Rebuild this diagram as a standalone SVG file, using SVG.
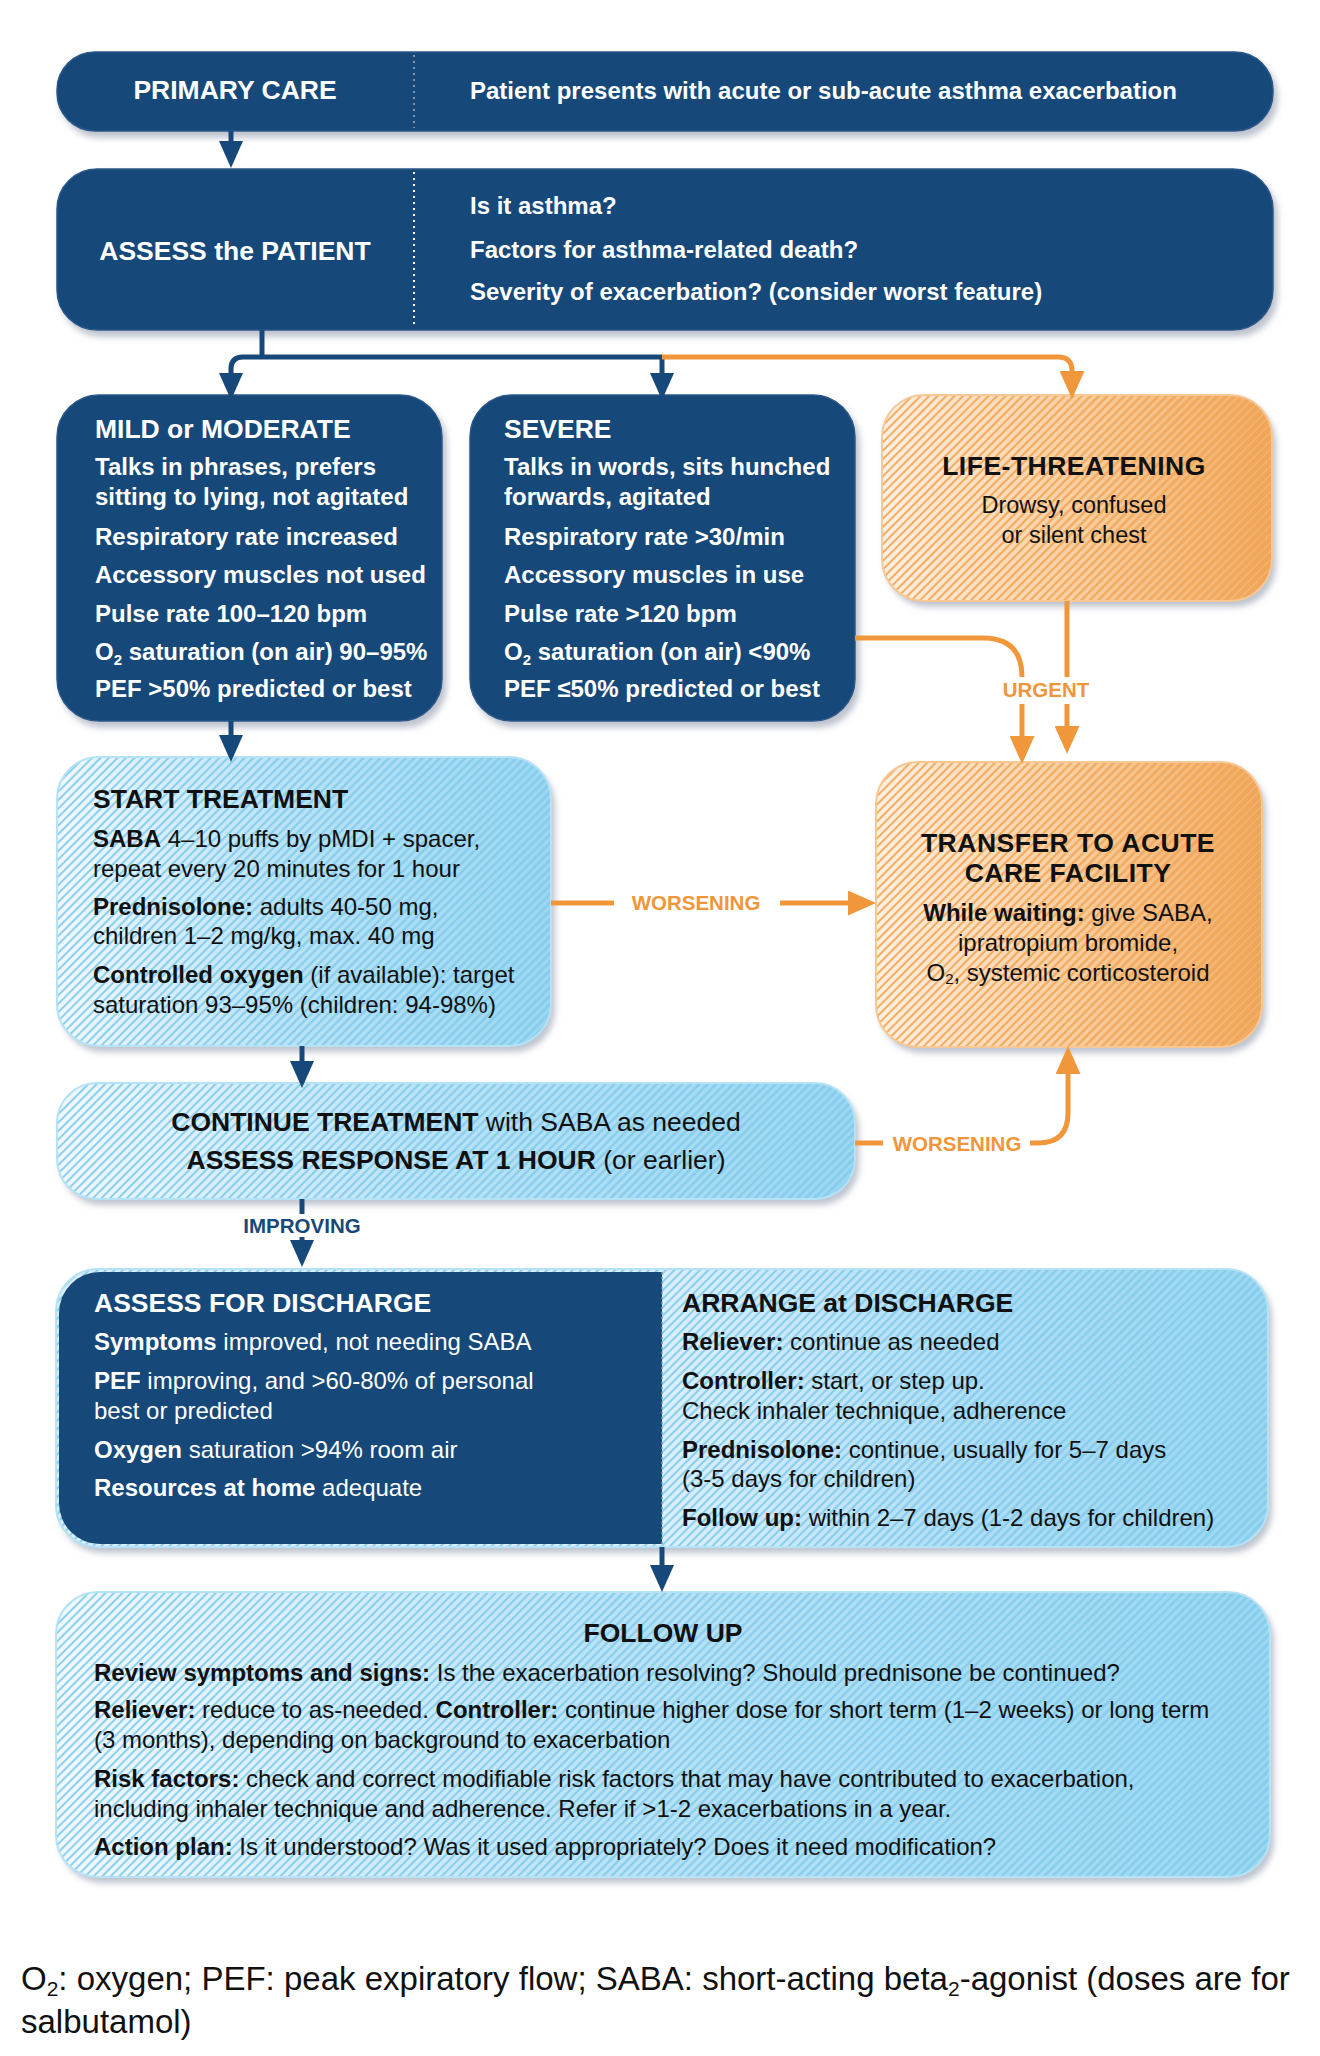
<svg xmlns="http://www.w3.org/2000/svg" width="1320" height="2056" viewBox="0 0 1320 2056">
<style>
text{font-family:'Liberation Sans',Arial,Helvetica,sans-serif}
.w{fill:#ffffff}
.k{fill:#111111}
.ttl{font-size:26.5px;font-weight:bold}
.bd{font-size:24px}
.b{font-weight:bold}
.n{font-weight:normal}
.lo{fill:#f0963a;font-weight:bold;font-size:20.5px}
.lb{fill:#164879;font-weight:bold;font-size:20.5px}
.dark{fill:#164879;stroke:#2a5789;stroke-width:1.5}
.light{stroke:#b6e2f6;stroke-width:2}
.cb{fill:none;stroke:#164879;stroke-width:5}
.co{fill:none;stroke:#f0973c;stroke-width:5}
</style>
<defs>
<filter id="sh" x="-5%" y="-10%" width="112%" height="125%">
<feDropShadow dx="4" dy="6" stdDeviation="3" flood-color="#7d869c" flood-opacity="0.5"/>
</filter>
<linearGradient id="gL" x1="0" y1="0" x2="1" y2="0">
<stop offset="0" stop-color="#eef8fd"/>
<stop offset="0.45" stop-color="#b2e0f5"/>
<stop offset="1" stop-color="#8fd3f0"/>
</linearGradient>
<linearGradient id="gD" x1="662" y1="0" x2="1268" y2="0" gradientUnits="userSpaceOnUse">
<stop offset="0" stop-color="#d6eefa"/>
<stop offset="0.5" stop-color="#a6daf3"/>
<stop offset="1" stop-color="#8fd3f0"/>
</linearGradient>
<linearGradient id="gO" x1="0" y1="0" x2="1" y2="0">
<stop offset="0" stop-color="#fdeedd"/>
<stop offset="0.5" stop-color="#f8c893"/>
<stop offset="1" stop-color="#f0a14f"/>
</linearGradient>
<pattern id="hB" width="6" height="6" patternUnits="userSpaceOnUse" patternTransform="rotate(45)">
<line x1="1" y1="0" x2="1" y2="6" stroke="#86cbec" stroke-width="1.8"/>
<line x1="4" y1="0" x2="4" y2="6" stroke="#ffffff" stroke-opacity="0.25" stroke-width="1"/>
</pattern>
<pattern id="hO" width="6" height="6" patternUnits="userSpaceOnUse" patternTransform="rotate(45)">
<line x1="1" y1="0" x2="1" y2="6" stroke="#f1a85c" stroke-width="1.8"/>
<line x1="4" y1="0" x2="4" y2="6" stroke="#ffffff" stroke-opacity="0.3" stroke-width="1"/>
</pattern>
<marker id="aB" viewBox="0 0 27 24" refX="0" refY="12" markerWidth="27" markerHeight="24" markerUnits="userSpaceOnUse" orient="auto">
<path d="M0,0 L27,12 L0,24 Z" fill="#164879"/>
</marker>
<marker id="aO" viewBox="0 0 28 25" refX="0" refY="12.5" markerWidth="28" markerHeight="25" markerUnits="userSpaceOnUse" orient="auto">
<path d="M0,0 L28,12.5 L0,25 Z" fill="#f0973c"/>
</marker>
</defs>

<rect width="1320" height="2056" fill="#ffffff"/>

<g id="primary-care">
<rect x="57" y="52" width="1216" height="79" rx="38" class="dark" filter="url(#sh)"/>
<line x1="414" y1="55" x2="414" y2="128" stroke="#8c92a5" stroke-width="2" stroke-dasharray="2,4"/>
<text x="235" y="99" text-anchor="middle" class="w ttl">PRIMARY CARE</text>
<text x="470" y="99" class="w bd b">Patient presents with acute or sub-acute asthma exacerbation</text>
</g>

<g id="assess-patient">
<rect x="57" y="169" width="1216" height="161" rx="40" class="dark" filter="url(#sh)"/>
<line x1="414" y1="172" x2="414" y2="328" stroke="#ffffff" stroke-width="2" stroke-dasharray="2,4"/>
<text x="235" y="260" text-anchor="middle" class="w ttl">ASSESS the PATIENT</text>
<text x="470" y="214" class="w bd b">Is it asthma?</text>
<text x="470" y="258" class="w bd b">Factors for asthma-related death?</text>
<text x="470" y="300" class="w bd b">Severity of exacerbation? (consider worst feature)</text>
</g>

<g id="mild-moderate">
<rect x="57" y="395" width="385" height="326" rx="42" class="dark" filter="url(#sh)"/>
<text x="95" y="438" class="w ttl">MILD or MODERATE</text>
<text x="95" y="475" class="w bd b">Talks in phrases, prefers</text>
<text x="95" y="505" class="w bd b">sitting to lying, not agitated</text>
<text x="95" y="545" class="w bd b">Respiratory rate increased</text>
<text x="95" y="583" class="w bd b">Accessory muscles not used</text>
<text x="95" y="622" class="w bd b">Pulse rate 100–120 bpm</text>
<text x="95" y="660" class="w bd b">O<tspan font-size="15" dy="5">2</tspan><tspan dy="-5"> saturation (on air) 90–95%</tspan></text>
<text x="95" y="697" class="w bd b">PEF &gt;50% predicted or best</text>
</g>

<g id="severe">
<rect x="470" y="395" width="385" height="326" rx="42" class="dark" filter="url(#sh)"/>
<text x="504" y="438" class="w ttl">SEVERE</text>
<text x="504" y="475" class="w bd b">Talks in words, sits hunched</text>
<text x="504" y="505" class="w bd b">forwards, agitated</text>
<text x="504" y="545" class="w bd b">Respiratory rate &gt;30/min</text>
<text x="504" y="583" class="w bd b">Accessory muscles in use</text>
<text x="504" y="622" class="w bd b">Pulse rate &gt;120 bpm</text>
<text x="504" y="660" class="w bd b">O<tspan font-size="15" dy="5">2</tspan><tspan dy="-5"> saturation (on air) &lt;90%</tspan></text>
<text x="504" y="697" class="w bd b">PEF ≤50% predicted or best</text>
</g>

<g id="life-threatening">
<rect x="882" y="395" width="390" height="206" rx="42" fill="url(#gO)" filter="url(#sh)"/>
<rect x="882" y="395" width="390" height="206" rx="42" fill="url(#hO)" stroke="#f6c896" stroke-width="2"/>
<text x="1074" y="475" text-anchor="middle" class="k ttl" letter-spacing="0.5">LIFE-THREATENING</text>
<text x="1074" y="513" text-anchor="middle" class="k" font-size="23.5">Drowsy, confused</text>
<text x="1074" y="543" text-anchor="middle" class="k" font-size="23.5">or silent chest</text>
</g>

<g id="transfer">
<rect x="876" y="762" width="386" height="285" rx="42" fill="url(#gO)" filter="url(#sh)"/>
<rect x="876" y="762" width="386" height="285" rx="42" fill="url(#hO)" stroke="#f6c896" stroke-width="2"/>
<text x="1068" y="852" text-anchor="middle" class="k ttl" letter-spacing="0.5">TRANSFER TO ACUTE</text>
<text x="1068" y="882" text-anchor="middle" class="k ttl" letter-spacing="0.5">CARE FACILITY</text>
<text x="1068" y="921" text-anchor="middle" class="k bd"><tspan class="b">While waiting:</tspan> give SABA,</text>
<text x="1068" y="951" text-anchor="middle" class="k bd">ipratropium bromide,</text>
<text x="1068" y="981" text-anchor="middle" class="k bd">O<tspan font-size="15" dy="3">2</tspan><tspan dy="-3">, systemic corticosteroid</tspan></text>
</g>

<g id="start-treatment">
<rect x="57" y="757" width="494" height="289" rx="42" fill="url(#gL)" filter="url(#sh)"/>
<rect x="57" y="757" width="494" height="289" rx="42" fill="url(#hB)" class="light"/>
<text x="93" y="808" class="k ttl">START TREATMENT</text>
<text x="93" y="847" class="k bd"><tspan class="b">SABA</tspan> 4–10 puffs by pMDI + spacer,</text>
<text x="93" y="877" class="k bd">repeat every 20 minutes for 1 hour</text>
<text x="93" y="915" class="k bd"><tspan class="b">Prednisolone:</tspan> adults 40-50 mg,</text>
<text x="93" y="944" class="k bd">children 1–2 mg/kg, max. 40 mg</text>
<text x="93" y="983" class="k bd"><tspan class="b">Controlled oxygen</tspan> (if available): target</text>
<text x="93" y="1013" class="k bd">saturation 93–95% (children: 94-98%)</text>
</g>

<g id="continue-treatment">
<rect x="57" y="1083" width="798" height="116" rx="40" fill="url(#gL)" filter="url(#sh)"/>
<rect x="57" y="1083" width="798" height="116" rx="40" fill="url(#hB)" class="light"/>
<text x="456" y="1131" text-anchor="middle" class="k" font-size="26.5"><tspan class="b">CONTINUE TREATMENT</tspan> with SABA as needed</text>
<text x="456" y="1169" text-anchor="middle" class="k" font-size="26.5"><tspan class="b">ASSESS RESPONSE AT 1 HOUR</tspan> (or earlier)</text>
</g>

<g id="discharge">
<rect x="56" y="1269" width="1212" height="278" rx="42" fill="url(#gD)" filter="url(#sh)"/>
<rect x="56" y="1269" width="1212" height="278" rx="42" fill="url(#hB)" class="light"/>
<path d="M662,1272 H100 A41,41 0 0 0 59,1313 V1503 A41,41 0 0 0 100,1544 H662 Z" fill="#164879"/>
<line x1="662" y1="1272" x2="662" y2="1544" stroke="#8a94a8" stroke-width="1.5" stroke-dasharray="2,3"/>
<text x="94" y="1312" class="w ttl">ASSESS FOR DISCHARGE</text>
<text x="94" y="1350" class="w bd"><tspan class="b">Symptoms</tspan> improved, not needing SABA</text>
<text x="94" y="1389" class="w bd"><tspan class="b">PEF</tspan> improving, and &gt;60-80% of personal</text>
<text x="94" y="1419" class="w bd">best or predicted</text>
<text x="94" y="1458" class="w bd"><tspan class="b">Oxygen</tspan> saturation &gt;94% room air</text>
<text x="94" y="1496" class="w bd"><tspan class="b">Resources at home</tspan> adequate</text>
<text x="682" y="1312" class="k ttl">ARRANGE at DISCHARGE</text>
<text x="682" y="1350" class="k bd"><tspan class="b">Reliever:</tspan> continue as needed</text>
<text x="682" y="1389" class="k bd"><tspan class="b">Controller:</tspan> start, or step up.</text>
<text x="682" y="1419" class="k bd">Check inhaler technique, adherence</text>
<text x="682" y="1458" class="k bd"><tspan class="b">Prednisolone:</tspan> continue, usually for 5–7 days</text>
<text x="682" y="1487" class="k bd">(3-5 days for children)</text>
<text x="682" y="1526" class="k bd"><tspan class="b">Follow up:</tspan> within 2–7 days (1-2 days for children)</text>
</g>

<g id="follow-up">
<rect x="56" y="1592" width="1214" height="285" rx="42" fill="url(#gL)" filter="url(#sh)"/>
<rect x="56" y="1592" width="1214" height="285" rx="42" fill="url(#hB)" class="light"/>
<text x="663" y="1642" text-anchor="middle" class="k ttl">FOLLOW UP</text>
<text x="94" y="1681" class="k bd"><tspan class="b">Review symptoms and signs:</tspan> Is the exacerbation resolving? Should prednisone be continued?</text>
<text x="94" y="1718" class="k bd"><tspan class="b">Reliever:</tspan> reduce to as-needed. <tspan class="b">Controller:</tspan> continue higher dose for short term (1–2 weeks) or long term</text>
<text x="94" y="1748" class="k bd">(3 months), depending on background to exacerbation</text>
<text x="94" y="1787" class="k bd"><tspan class="b">Risk factors:</tspan> check and correct modifiable risk factors that may have contributed to exacerbation,</text>
<text x="94" y="1817" class="k bd">including inhaler technique and adherence. Refer if &gt;1-2 exacerbations in a year.</text>
<text x="94" y="1855" class="k bd"><tspan class="b">Action plan:</tspan> Is it understood? Was it used appropriately? Does it need modification?</text>
</g>

<g id="connectors">
<path class="cb" d="M231,131 V141" marker-end="url(#aB)"/>
<path class="cb" d="M262,330 V357"/>
<path class="cb" d="M662,357 H243 Q231,357 231,369 V373" marker-end="url(#aB)"/>
<path class="cb" d="M662,357 V373" marker-end="url(#aB)"/>
<path class="co" d="M662,357 H1058 Q1072,357 1072,371" marker-end="url(#aO)"/>
<path class="cb" d="M231,721 V735" marker-end="url(#aB)"/>
<path class="cb" d="M302,1046 V1061" marker-end="url(#aB)"/>
<path class="cb" d="M302,1199 V1214"/>
<path class="cb" d="M302,1237 V1240" marker-end="url(#aB)"/>
<path class="cb" d="M662,1547 V1565" marker-end="url(#aB)"/>
<path class="co" d="M855,638 H983 Q1022,638 1022,677"/>
<path class="co" d="M1022,704 V736" marker-end="url(#aO)"/>
<path class="co" d="M1067,601 V677"/>
<path class="co" d="M1067,704 V726" marker-end="url(#aO)"/>
<path class="co" d="M551,903 H614"/>
<path class="co" d="M780,903 H848" marker-end="url(#aO)"/>
<path class="co" d="M855,1143 H883"/>
<path class="co" d="M1030,1143 H1038 Q1068,1143 1068,1113 V1074" marker-end="url(#aO)"/>
<text x="1046" y="697" text-anchor="middle" class="lo">URGENT</text>
<text x="696" y="910" text-anchor="middle" class="lo">WORSENING</text>
<text x="957" y="1151" text-anchor="middle" class="lo">WORSENING</text>
<text x="302" y="1233" text-anchor="middle" class="lb">IMPROVING</text>
</g>

<g id="footer">
<text x="21" y="1990" class="k" font-size="33">O<tspan font-size="21" dy="6">2</tspan><tspan dy="-6">: oxygen; PEF: peak expiratory flow; SABA: short-acting beta</tspan><tspan font-size="21" dy="6">2</tspan><tspan dy="-6">-agonist (doses are for</tspan></text>
<text x="21" y="2033" class="k" font-size="33">salbutamol)</text>
</g>
</svg>
